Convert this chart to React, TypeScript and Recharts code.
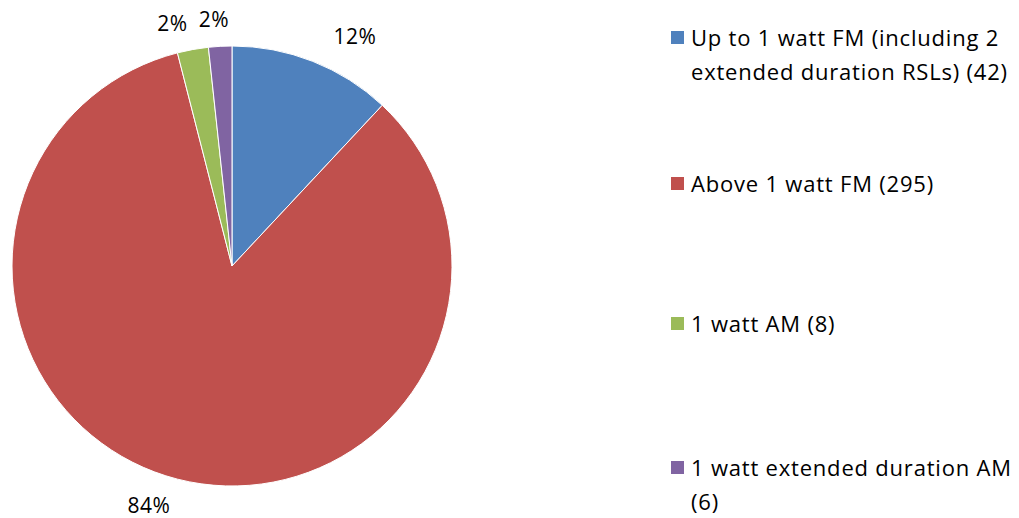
import React from "react";
import { PieChart, Pie, Cell, Legend } from "recharts";

const categories = [
  "Up to 1 watt FM (including 2 extended duration RSLs) (42)",
  "Above 1 watt FM (295)",
  "1 watt AM (8)",
  "1 watt extended duration AM (6)",
];
const values = [42, 295, 8, 6];
const percentLabels = ["12%", "84%", "2%", "2%"];
const colors = ["#4F81BD", "#C0504D", "#9BBB59", "#8064A2"];
const legendTops = [20, 166, 306, 450];

const data = categories.map((name, i) => ({ name, value: values[i] }));

const FONT = "'Open Sans', Lato, sans-serif";
const RAD = Math.PI / 180;

const renderLabel = (props: any) => {
  const { cx, cy, midAngle, outerRadius, index } = props;
  const r = outerRadius + 27;
  const x = cx + Math.cos(-midAngle * RAD) * (r + 88);
  const y = cy + Math.sin(-midAngle * RAD) * r;
  return (
    <text
      x={x}
      y={y}
      textAnchor="middle"
      dominantBaseline="central"
      fill="#000"
      fontSize={21}
      letterSpacing={0.5}
      fontFamily={FONT}
    >
      {percentLabels[index]}
    </text>
  );
};

const renderLegend = () => {
  return (
    <div style={{ position: "relative", width: 347, height: 518, fontFamily: FONT }}>
      {categories.map((name, i) => (
        <div
          key={i}
          style={{
            position: "absolute",
            left: 0,
            top: legendTops[i],
            display: "flex",
            alignItems: "flex-start",
          }}
        >
          <div
            style={{
              width: 13,
              height: 13,
              marginTop: 11,
              marginRight: 7,
              background: colors[i],
              flex: "none",
            }}
          />
          <div
            style={{
              width: 328,
              fontSize: 22,
              letterSpacing: 0.8,
              lineHeight: "34px",
              color: "#000",
              textAlign: "left",
            }}
          >
            {name}
          </div>
        </div>
      ))}
    </div>
  );
};

export default function App() {
  return (
    <div style={{ position: "absolute", left: 0, top: 0, background: "#fff" }}>
      <PieChart width={1019} height={518} margin={{ top: 0, right: 0, bottom: 0, left: 0 }}>
        <Pie
          data={data}
          dataKey="value"
          nameKey="name"
          cx={232}
          cy={266}
          outerRadius={220}
          startAngle={90}
          endAngle={-270}
          stroke="#fff"
          strokeWidth={1}
          label={renderLabel}
          labelLine={false}
          isAnimationActive={false}
        >
          {data.map((_, i) => (
            <Cell key={i} fill={colors[i]} />
          ))}
        </Pie>
        <Legend
          content={renderLegend}
          wrapperStyle={{ position: "absolute", left: 671, top: 0, width: 347, height: 518 }}
        />
      </PieChart>
    </div>
  );
}
